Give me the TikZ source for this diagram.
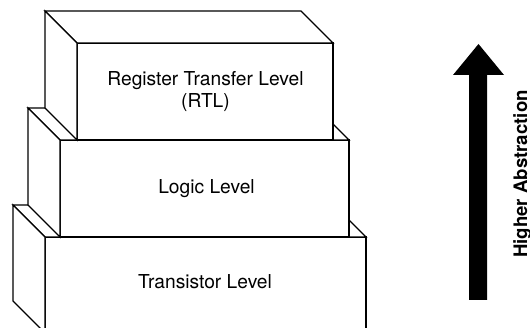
\documentclass[tikz,border=0pt]{standalone}
\usepackage{fontspec}
\setmainfont{TeX Gyre Heros}
\begin{document}
\begin{tikzpicture}[x=1pt, y=-1pt]
\tikzset{
  face/.style={draw=black, fill=white, line width=1.4pt, line join=miter},
  frontface/.style={face, rectangle, inner sep=0pt, outer sep=0pt},
  levellabel/.style={font=\fontsize{19.2}{22}\selectfont, anchor=base, inner sep=0pt},
  sidelabel/.style={font=\bfseries\fontsize{18.6}{22}\selectfont, anchor=base, inner sep=0pt, rotate=90},
}
\useasboundingbox (0,0) rectangle (530,328);
\clip (0,0) rectangle (530,328);

% bottom block: transistor level
\node[frontface, minimum width=321pt, minimum height=96pt] (trans) at (205.5,285) {};
\draw[face] (trans.north west) -- ([shift={(-32,-32)}]trans.north west)
  -- ([shift={(-32,-32)}]trans.north east) -- (trans.north east) -- cycle;
\draw[face] (trans.north west) -- ([shift={(-32,-32)}]trans.north west)
  -- ([shift={(-32,-32)}]trans.south west) -- (trans.south west) -- cycle;

% middle block: logic level
\node[frontface, minimum width=289pt, minimum height=97pt] (logic) at (204.5,188.5) {};
\draw[face] (logic.north west) -- ([shift={(-32,-32)}]logic.north west)
  -- ([shift={(-32,-32)}]logic.north east) -- (logic.north east) -- cycle;
\draw[face] (logic.north west) -- ([shift={(-32,-32)}]logic.north west)
  -- ([shift={(-32,-32)}]logic.south west) -- (logic.south west) -- cycle;

% top block: register transfer level
\node[frontface, minimum width=256pt, minimum height=97pt] (rtl) at (205,91.5) {};
\draw[face] (rtl.north west) -- ([shift={(-32,-32)}]rtl.north west)
  -- ([shift={(-32,-32)}]rtl.north east) -- (rtl.north east) -- cycle;
\draw[face] (rtl.north west) -- ([shift={(-32,-32)}]rtl.north west)
  -- ([shift={(-32,-32)}]rtl.south west) -- (rtl.south west) -- cycle;

% block captions
\node[levellabel] (rtlname) at (205.5,86) {Register Transfer Level};
\node[levellabel] (rtlabbr) at (205.5,107.5) {(RTL)};
\node[levellabel] (logicname) at (206.5,194) {Logic Level};
\node[levellabel] (transname) at (205,289) {Transistor Level};

% abstraction arrow
\fill (469,300) -- (487,300) -- (487,75) -- (504,75) -- (478.5,44)
  -- (453,75) -- (469,75) -- cycle;
\node[sidelabel] (abstraction) at (527,174) {Higher Abstraction};
\end{tikzpicture}
\end{document}
